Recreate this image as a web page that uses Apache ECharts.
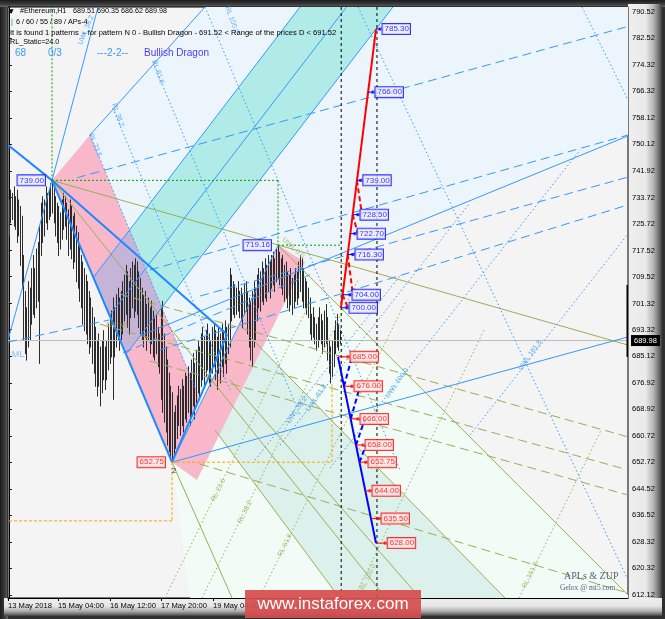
<!DOCTYPE html>
<html><head><meta charset="utf-8">
<script src="https://cdn.jsdelivr.net/npm/echarts@6/dist/echarts.min.js"></script>
<style>
html,body{margin:0;padding:0;background:#2a2a2a;}
#wrap{position:relative;width:665px;height:619px;overflow:hidden;background:#2f2f2f;}
#fl{position:absolute;left:0;top:0;width:8px;height:619px;background:linear-gradient(to right,#1c1c1c,#3c3c3c 60%,#6a6a6a);}
#ft{position:absolute;left:0;top:0;width:665px;height:7px;background:linear-gradient(to bottom,#1c1c1c,#3c3c3c 60%,#6a6a6a);}
#fr{position:absolute;left:628px;top:4px;width:34px;height:612px;background:linear-gradient(to right,#efefef 0%,#e9e9e9 52%,#b5b5b5 75%,#6a6a6a 92%,#3a3a3a 100%);}
#fb{position:absolute;left:4px;top:598px;width:658px;height:18px;background:linear-gradient(to bottom,#eeeeee 0%,#e6e6e6 45%,#b0b0b0 72%,#666 92%,#3a3a3a 100%);}
#c{position:absolute;left:0;top:0;width:665px;height:619px;}
#wm{position:absolute;left:245px;top:590px;width:176px;height:28px;background:rgba(214,78,78,0.93);color:#fff;font:17px "Liberation Sans",Arial,sans-serif;line-height:28px;text-align:center;}
</style></head>
<body><div id="wrap"><div id="fl"></div><div id="ft"></div><div id="fr"></div><div id="fb"></div><div id="c"></div><div id="wm">www.instaforex.com</div></div>
<script>
// ---------- DATA ----------
const tickBars = [-0.5, 30.75, 63.25, 95.1, 127.6, 160, 192.5];
const tickLabels = ['13 May 2018','15 May 04:00','16 May 12:00','17 May 20:00','19 May 04:00','20 May 12:00','21 May 20:00'];
const priceTicks = [790.52,782.52,774.32,766.32,758.12,750.12,741.92,733.72,725.72,717.52,709.52,701.32,693.32,685.12,676.92,668.92,660.72,652.72,644.52,636.52,628.32,620.32,612.12];
const lastPrice = 689.98;

const highs = [733,736,735,737,734,736,733,731,728,716,
705,700,708,706,712,716,712,718,720,725,
732,734,733,737,735,736,738,739,737,734,
732,731,729,733,735,734,732,730,733,731,
728,729,725,723,719,716,714,712,710,708,
705,703,700,697,694,690,692,688,690,693,
688,690,695,697,699,703,700,704,706,703,
705,708,710,713,711,708,712,714,713,715,
714,711,709,706,704,705,701,703,700,702,
699,697,698,694,692,700,702,692,688,684,
680,676,674,668,670,673,676,675,678,676,
680,679,682,680,684,686,683,687,690,688,
692,694,691,693,695,692,690,694,695,693,
691,694,692,695,693,696,694,695,712,710,
708,707,706,708,705,706,704,707,708,705,
703,702,705,708,706,710,712,711,714,712,
715,713,716,714,716,717,715,718,719.16,717,
715,716,713,714,711,710,712,709,710,712,
711,714,716,715,712,709,708,706,703,698,
700,697,695,697,700,698,696,699,701,697,
690,688,690,693,696,698,695,693];
const lows = [722,726,727,725,724,720,722,713,706,690,
686,684,688,690,695,698,697,700,702,683,
716,720,722,726,724,727,728,729,726,722,
720,716,718,721,724,725,721,716,718,715,
712,714,708,706,702,700,695,693,692,689,
686,688,683,680,676,673,676,670,674,678,
675,678,681,683,685,672,685,688,690,687,
690,692,696,698,694,692,697,700,697,699,
698,694,692,690,688,691,687,690,686,689,
685,684,686,682,680,672,668,665,662,658,
656,654,652.75,655,657,660,664,661,664,662,
666,665,668,664,667,670,666,671,674,672,
676,678,676,679,681,677,676,680,682,678,
675,680,677,682,679,683,680,686,688,696,
698,697,698,699,697,696,694,698,699,692,
688,684,682,688,690,696,700,699,702,701,
703,702,705,703,706,707,705,708,709,707,
706,704,702,703,700,699,701,698,700,702,
701,703,705,702,700,700,698,697,692,690,
691,689,687,688,690,689,686,688,689,684,
680,677,679,682,686,688,687,689];

// shaded zones: [bar, price] vertices
const lightBlueZone = [[50.75,752.9],[122.6,792.05],[387,792.05],[387,752.6],[136.4,702.4],[136.4,691.8],[102,652.75],[27,739.0]];
const greenZone = [[168.25,719.16],[387,612.1],[387,611.2],[113.25,611.2],[102,652.75]];
const tealBand = [[150.75,691.1],[310.1,611.2],[206.75,611.2],[128.9,662.6]];
const cyanBand = [[182,792.05],[240.1,792.05],[73.9,686.2],[52.75,709.25]];
const pinkFall = [[27,739.0],[50.75,752.9],[119.5,672.4],[102,652.75]];
const pinkRise = [[102,652.75],[168.25,719.16],[185.1,714.0],[117.6,647.3]];

// trend lines: [bar1, price1, bar2, price2]
const blueThick = [[-0.5,749.8,27,739.0],[27,739.0,102,652.75],[27,739.0,136.4,691.8],[136.4,691.8,102,652.75]];
const blueThin = [[102,652.75,387,691.1],[27,739.0,-0.5,690.1],[27,739.0,55.75,792.05],[50.75,752.9,122.6,792.05],
  [82,691.4,387,752.6],[102,652.75,168.25,719.16],[52.75,709.25,182,792.05],[73.9,686.2,240.1,792.05],[63.25,697.8,211.1,792.05]];
const blueDash = [[42.6,739.8,387,786.1],[88.25,711.6,387,752.9],[119.5,703.6,387,740.0],[94.5,687.1,387,731.5],
  [-0.5,689.5,63,696.3],[71.4,686.2,188.25,710.1]];
const blueDot = [[50.75,752.9,117,674.85],[65,761.1,138.25,674.85],[90.1,775.2,182,667.2],[122.6,792.05,244.5,650.4],
  [218.25,792.05,387,616.7],[358.25,792.05,387,763.6],[153.9,653.4,244.5,709.8],[169.5,658.0,288.25,732.1],
  [200.75,651.0,357,748.3],[288.25,661.1,387,722.6]];
const oliveSolid = [[27,739.0,387,688.6],[168.25,719.16,387,612.1],[27,739.0,235.75,611.2],[150.75,691.1,310.1,611.2],
  [128.9,662.6,206.75,611.2],[138,678.0,257,611.2],[102,652.75,139.5,611.2]];
const oliveDash = [[69.5,704.2,387,660.5],[57,695.0,387,650.4],[88.25,683.7,387,642.7],[119.5,652.2,387,612.7]];
const oliveDot = [[97.6,611.2,188.9,702.4],[120.75,611.2,218.25,708.5],[156.4,611.2,248.5,702.4],[215.75,611.2,297,693.2],[318.9,611.2,370.25,662.6]];
const greenDash = [[27,739.0,27,792.05],[27,739.0,168.25,739.0],[168.25,739.0,168.25,719.16],[168.25,719.16,207.6,719.16]];
const orangeDash = [[102,652.75,202,652.75],[202,652.75,202,677.0],[102,652.75,102,634.8],[102,634.8,-0.5,634.8]];
const blackDash = [[207.75,611.2,207.75,792.05],[230.1,611.2,230.1,792.05]];
const axisMark = [[387,707.0,387,684.97]];

// projection legs
const redLeg = [[207.6,700.0],[229.5,785.3]];
const blueLeg = [[205.75,685.0],[229.5,628.0]];
const redZig = [[217.6,739,220.75,728.5],[214.9,728.5,218.25,722.7],[211.8,716.3,215.1,704],[208.6,704,212,700]];
const blueZig = [[209.5,676,214.5,685],[213.7,666,219.5,676],[217,658,222.6,666],[219.2,652.75,223.25,658]];
const upTargets = [785.30,766.00,739.00,728.50,722.70,716.30,704.00,700.00];
const upTargetBars = [232,227.6,220,218.25,216.4,215.1,213.25,211.4];
const downTargets = [685.00,676.00,666.00,658.00,652.75,644.00,635.50,628.00];
const downTargetBars = [212,214.5,218.25,221.4,223.25,225.75,231.4,235.25];

// pattern pivots
const pivotNames = ['739.00','652.75','719.16'];
const pivotBars = [27,102,168.25];
const pivotPrices = [739.00,652.75,719.16];
const pivotColors = ['#0000ff','#ff0000','#0000ff'];

// level captions on lines
const blueCaptions = [['RL 23.6',54,749.8,-68],['RL 38.2',68.3,759.0,-70],['RL 61.8',93.25,772.2,-70],['RL 100.0',139.5,788.1,-70],
  ['UWL 38.2',48.25,785.0,68],['UWL 38.2',180,668.7,55],['UWL 61.8',192.2,672.4,55],['UWL 100.0',242.6,677.0,55],['UWL 161.8',325.75,685.5,55]];
const oliveCaptions = [['RL 23.6',131,644.3,64],['RL 38.2',147.6,637.5,64],['RL 61.8',172.6,627.4,64],['RL 100.0',224.5,617.6,64],
  ['RL 161.8',325.75,618.2,64],['UWL 0.0',177.75,718.3,-42]];

// ---------- CHART ----------
const FF = '"Liberation Sans", Arial, "DejaVu Sans", sans-serif';
const chart = echarts.init(document.getElementById('c'), null, {renderer:'canvas'});

function zone(pts, color, z){
  return {type:'custom', silent:true, animation:false, z:z, clip:true, data:[pts[0]], encode:{x:0,y:1},
    renderItem:(params, api)=>({type:'polygon', shape:{points:pts.map(p=>api.coord(p))}, style:{fill:color}})};
}
function segs(data, color, width, dash, z){
  return {type:'custom', silent:true, animation:false, z:z||3, clip:true, data:data, encode:{x:[0,2], y:[1,3]},
    renderItem:(params, api)=>{
      const a = api.coord([api.value(0), api.value(1)]);
      const b = api.coord([api.value(2), api.value(3)]);
      return {type:'line', shape:{x1:a[0],y1:a[1],x2:b[0],y2:b[1]}, style:{stroke:color, lineWidth:width, lineDash:dash||null}};
    }};
}
function clipPoly(subject, clip){
  let out = subject.slice();
  let area = 0;
  for (let i=0;i<clip.length;i++){const a=clip[i],b=clip[(i+1)%clip.length]; area += a[0]*b[1]-b[0]*a[1];}
  const s = area>0?1:-1;
  const inside=(p,a,b)=> s*((b[0]-a[0])*(p[1]-a[1])-(b[1]-a[1])*(p[0]-a[0]))>=0;
  const inter=(p,q,a,b)=>{const A1=q[1]-p[1],B1=p[0]-q[0],C1=A1*p[0]+B1*p[1];const A2=b[1]-a[1],B2=a[0]-b[0],C2=A2*a[0]+B2*a[1];const d=A1*B2-A2*B1;return [(B2*C1-B1*C2)/d,(A1*C2-A2*C1)/d];};
  for (let i=0;i<clip.length;i++){
    const a=clip[i], b=clip[(i+1)%clip.length]; const inp=out; out=[];
    for (let j=0;j<inp.length;j++){
      const p=inp[j], q=inp[(j+1)%inp.length]; const pin=inside(p,a,b), qin=inside(q,a,b);
      if (pin){ out.push(p); if(!qin) out.push(inter(p,q,a,b)); } else if (qin){ out.push(inter(p,q,a,b)); }
    }
    if (!out.length) break;
  }
  return out;
}
const overlap = clipPoly(pinkFall, cyanBand);

const lerpX = (leg, p)=> leg[0][0] + (p-leg[0][1])/(leg[1][1]-leg[0][1])*(leg[1][0]-leg[0][0]);
const upConn = upTargets.map((p,i)=>[lerpX(redLeg,p), p, upTargetBars[i], p]);
const downConn = downTargets.map((p,i)=>[lerpX(blueLeg,p), p, downTargetBars[i], p]);

function targetSeries(bars, prices, color, bg){
  return {type:'scatter', silent:true, animation:false, z:6, symbol:'rect', symbolSize:[3,3],
    itemStyle:{color:color}, data:bars.map((b,i)=>[b,prices[i]]),
    label:{show:true, position:'right', distance:1, formatter:p=>p.value[1].toFixed(2), color:color, fontSize:8, fontFamily:FF,
      backgroundColor:bg, borderColor:color, borderWidth:1, padding:[1,1,0,2], lineHeight:9}};
}
function captionSeries(list, color, size){
  return {type:'scatter', silent:true, animation:false, z:5, symbolSize:0,
    data:list.map(c=>({value:[c[1],c[2]], name:c[0], label:{rotate:c[3]}})),
    label:{show:true, position:'inside', formatter:p=>p.name, color:color, fontSize:size||7, fontFamily:FF}};
}

const candleData = highs.map((h,i)=>[i, lows[i], h]);

const series = [
  zone(lightBlueZone,'#edf5fc',1),
  zone(greenZone,'#f3fbf6',1),
  zone(tealBand,'#ddf1ec',1),
  zone(cyanBand,'#b1ebe7',1),
  zone(pinkFall,'#f8b8c9',1),
  zone(pinkRise,'#f8b8c9',1),
  zone(overlap,'#c6b3d8',1),
  {type:'line', silent:true, animation:false, z:2, symbol:'none', data:[[-0.5,lastPrice],[387,lastPrice]],
    lineStyle:{color:'#bdbdbd', width:1},
    endLabel:{show:true, formatter:lastPrice.toFixed(2), color:'#fff', backgroundColor:'#000', fontSize:7.5, fontFamily:FF, padding:[2,3,1,3], distance:3}},
  {type:'custom', silent:true, animation:false, z:2, clip:true, data:candleData, encode:{x:0, y:[1,2]},
    renderItem:(params, api)=>{
      const a = api.coord([api.value(0), api.value(1)]);
      const b = api.coord([api.value(0), api.value(2)]);
      const x = Math.round(a[0])+0.5;
      return {type:'line', shape:{x1:x,y1:a[1]+0.5,x2:x,y2:b[1]-0.5}, style:{stroke:'#2c2c2c', lineWidth:1}};
    }},
  segs(oliveSolid,'#9aae55',1,null,3),
  segs(oliveDash,'#9aae55',1,[9,5],3),
  segs(oliveDot,'#9aae55',1,[1.5,2.5],3),
  segs(blueThin,'#3399ff',1,null,3),
  segs(blueDash,'#3399ff',1,[9,5],3),
  segs(blueDot,'#3399ff',1,[1.5,2.5],3),
  segs(blueThick,'#1e88ff',2,null,3),
  segs(greenDash,'#00a000',1,[2,2],3),
  segs(orangeDash,'#ffa500',1,[3,2],3),
  segs(blackDash,'#000000',1,[3,3],3),
  segs(axisMark,'#000000',3,null,3),
  segs([[redLeg[0][0],redLeg[0][1],redLeg[1][0],redLeg[1][1]]],'#ff0000',2,null,4),
  segs(redZig,'#ff0000',2,[5,3],4),
  segs([[blueLeg[0][0],blueLeg[0][1],blueLeg[1][0],blueLeg[1][1]]],'#0000ff',2,null,4),
  segs(blueZig,'#0000ff',2,[5,3],4),
  segs(upConn,'#0000ff',1,null,4),
  segs(downConn,'#ff0000',1,null,4),
  targetSeries(upTargetBars, upTargets, '#0000ff', '#eeeeff'),
  targetSeries(downTargetBars, downTargets, '#ff0000', '#ffe6e6'),
  {type:'scatter', silent:true, animation:false, z:6, symbolSize:0,
    data:pivotBars.map((b,i)=>({value:[b,pivotPrices[i]], name:pivotNames[i],
      label:{color:pivotColors[i], borderColor:pivotColors[i], backgroundColor: i===1?'#ffe6e6':'#eeeeff'}})),
    label:{show:true, position:'left', distance:7, formatter:p=>p.name, fontSize:8, fontFamily:FF, borderWidth:1, padding:[1,1,0,2], lineHeight:9}},
  captionSeries(blueCaptions,'#3399ff',7),
  captionSeries(oliveCaptions,'#9aae55',7),
  captionSeries([['1/2 ML',68.3,694.7,0]],'#b0a436',8),
  captionSeries([['ML',5.75,685.6,0]],'#66b3ff',9),
  captionSeries([['2',103.25,650.0,0]],'#000000',8)
];

const option = {
  backgroundColor:'transparent',
  animation:false,
  grid:{left:8, right:37, top:7, bottom:21, show:true, backgroundColor:'#f4f4f4', borderColor:'#000', borderWidth:1},
  xAxis:{type:'value', min:-0.5, max:387, splitLine:{show:false},
    axisLine:{show:true, onZero:false, lineStyle:{color:'#000'}},
    axisTick:{show:true, length:3, lineStyle:{color:'#000'}, customValues:tickBars},
    axisLabel:{customValues:tickBars, align:'left', margin:4, fontSize:7.6, fontFamily:FF, color:'#000',
      formatter:v=>{const i=tickBars.findIndex(t=>Math.abs(t-v)<1e-6); return i>=0?tickLabels[i]:'';}}},
  yAxis:{type:'value', position:'right', min:611.2, max:792.05, splitLine:{show:false}, scale:true,
    axisLine:{show:true, lineStyle:{color:'#000'}},
    axisTick:{show:true, length:3, lineStyle:{color:'#000'}, customValues:priceTicks},
    axisLabel:{customValues:priceTicks, margin:4, fontSize:7.5, fontFamily:FF, color:'#000', formatter:v=>v.toFixed(2)}},
  graphic:[
    {type:'text', zlevel:1, left:9, top:8, style:{text:'▼', fontSize:6, fill:'#000', fontFamily:'"DejaVu Sans"'}},
    {type:'text', zlevel:1, left:20, top:8, style:{text:'#Ethereum,H1', fontSize:7.2, fill:'#000', fontFamily:FF}},
    {type:'text', zlevel:1, left:73, top:8, style:{text:'689.51 690.35 686.62 689.98', fontSize:7.2, fill:'#000', fontFamily:FF}},
    {type:'text', zlevel:1, left:11, top:19, style:{text:'|', fontSize:7.2, fill:'#00a000', fontFamily:FF}},
    {type:'text', zlevel:1, left:16, top:19, style:{text:'6 / 60 / 55 / 89 / APs-4', fontSize:7.2, fill:'#000', fontFamily:FF}},
    {type:'text', zlevel:1, left:10, top:29, style:{text:'It is found 1 patterns  - for pattern N 0 - Bullish Dragon - 691.52 < Range of the prices D < 691.52', fontSize:7.6, fill:'#000', fontFamily:FF}},
    {type:'text', zlevel:1, left:10, top:39, style:{text:'RL_Static=24.0', fontSize:7.2, fill:'#000', fontFamily:FF}},
    {type:'text', zlevel:1, left:15, top:48, style:{text:'68', fontSize:10, fill:'#3399ff', fontFamily:FF}},
    {type:'text', zlevel:1, left:48, top:48, style:{text:'0/3', fontSize:10, fill:'#3399ff', fontFamily:FF}},
    {type:'text', zlevel:1, left:97, top:48, style:{text:'---2-2--', fontSize:10, fill:'#3399ff', fontFamily:FF}},
    {type:'text', zlevel:1, left:144, top:48, style:{text:'Bullish Dragon', fontSize:10, fill:'#4b3df2', fontFamily:FF}},
    {type:'text', zlevel:1, left:564, top:571, style:{text:'APLs & ZUP', fontSize:10, fill:'#55607a', fontFamily:'"Liberation Serif", serif'}},
    {type:'text', zlevel:1, left:560, top:584, style:{text:'Gelox @ mt5.com', fontSize:7.5, fill:'#55607a', fontFamily:'"Liberation Serif", serif'}}
  ],
  series:series
};
chart.setOption(option);
</script></body></html>
